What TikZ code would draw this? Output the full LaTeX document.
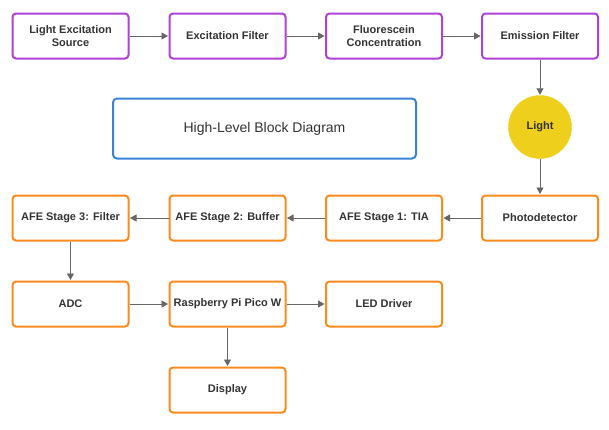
\documentclass[tikz,border=0pt]{standalone}
\usepackage{fontspec}
\setmainfont{Liberation Sans}
\usetikzlibrary{arrows.meta}
\definecolor{purp}{HTML}{AE41D6}
\definecolor{orng}{HTML}{FB8A1E}
\definecolor{blu}{HTML}{3A82D6}
\definecolor{yel}{HTML}{EDCF1C}
\definecolor{txt}{HTML}{333333}
\definecolor{arr}{HTML}{666666}
\tikzset{
  blk/.style={draw, line width=2pt, rounded corners=3.5pt, minimum width=116pt, minimum height=45pt, align=center, inner sep=1pt, text=txt, font=\fontsize{11}{12.5}\selectfont\bfseries},
  pbox/.style={blk, draw=purp},
  obox/.style={blk, draw=orng},
  conn/.style={draw=arr, line width=0.9pt, -{Triangle[length=6.5pt,width=7pt]}, shorten >=0.5pt},
}
\begin{document}
\begin{tikzpicture}[x=1pt,y=-1pt]
\useasboundingbox (0,0) rectangle (609,429);
\node[pbox] (ls) at (70.5,36) {Light Excitation\\Source};
\node[pbox] (ef) at (227.5,36) {Excitation Filter};
\node[pbox] (fc) at (384,36) {Fluorescein\\Concentration};
\node[pbox] (emf) at (540,36) {Emission Filter};
\node[draw=blu, line width=2pt, rounded corners=4pt, minimum width=303pt, minimum height=60pt, text=txt, font=\fontsize{14}{16}\selectfont] (title) at (264.5,128.5) {High-Level Block Diagram};
\node[circle, fill=yel, draw=yel, minimum size=63pt, inner sep=0pt, text=txt, font=\fontsize{11}{12.5}\selectfont\bfseries] (light) at (540,127) {Light};
\node[obox] (pd) at (540,218) {Photodetector};
\node[obox] (tia) at (384,218) {AFE Stage 1: TIA};
\node[obox] (buf) at (227.5,218) {AFE Stage 2: Buffer};
\node[obox] (afe3) at (70.5,218) {AFE Stage 3: Filter};
\node[obox] (adc) at (70.5,304) {ADC};
\node[obox] (pico) at (227.5,304) {Raspberry Pi Pico W};
\node[obox] (led) at (384,304) {LED Driver};
\node[obox] (disp) at (227.5,390) {Display};
\draw[conn] (ls) -- (ef);
\draw[conn] (ef) -- (fc);
\draw[conn] (fc) -- (emf);
\draw[conn] (emf) -- (light);
\draw[conn] (light) -- (pd);
\draw[conn] (pd) -- (tia);
\draw[conn] (tia) -- (buf);
\draw[conn] (buf) -- (afe3);
\draw[conn] (afe3) -- (adc);
\draw[conn] (adc) -- (pico);
\draw[conn] (pico) -- (led);
\draw[conn] (pico) -- (disp);
\end{tikzpicture}
\end{document}
